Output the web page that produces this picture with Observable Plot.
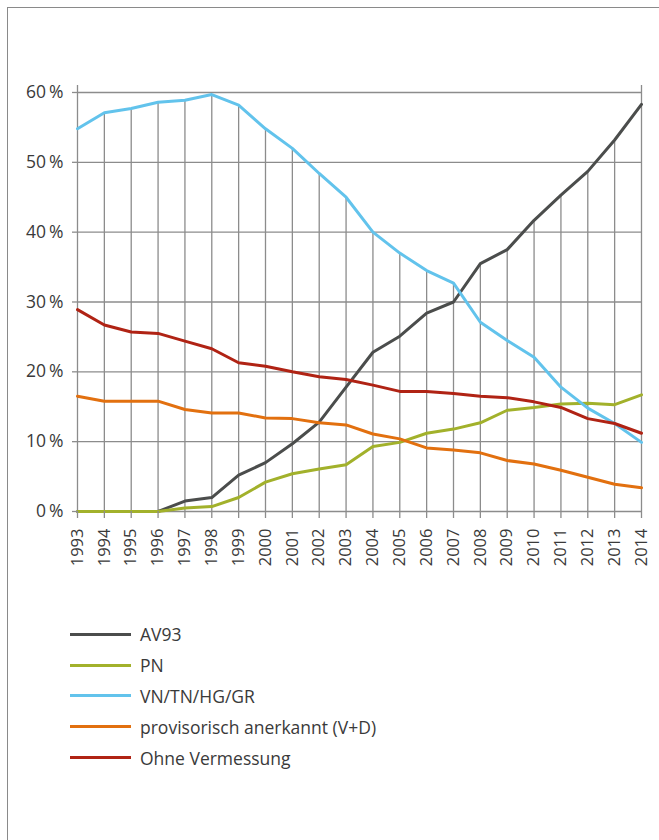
<!DOCTYPE html>
<html><head><meta charset="utf-8">
<script src="https://cdn.jsdelivr.net/npm/d3@7"></script>
<script src="https://cdn.jsdelivr.net/npm/@observablehq/plot@0.6"></script>
<style>
body{margin:0;background:#fff;}
#wrap{position:relative;width:659px;height:840px;overflow:hidden;font-family:"Open Sans",sans-serif;color:#3a3a3a;background:#fff;}
#frame{position:absolute;left:7px;top:7px;width:700px;height:900px;border-left:1.5px solid #8a8a8a;border-top:1.5px solid #8a8a8a;}
#chart{position:absolute;left:0;top:0;}
#legend{position:absolute;left:70px;top:619px;}
.item{display:flex;align-items:center;height:30.8px;}
.sw{width:61px;height:3px;margin-right:9px;}
.lbl{font-size:17.5px;color:#3a3a3a;}
</style></head><body>
<div id="wrap"><div id="frame"></div><div id="chart"></div><div id="legend"></div></div>
<script>
const years = [1993,1994,1995,1996,1997,1998,1999,2000,2001,2002,2003,2004,2005,2006,2007,2008,2009,2010,2011,2012,2013,2014];
const seriesNames = ["AV93","PN","VN/TN/HG/GR","provisorisch anerkannt (V+D)","Ohne Vermessung"];
const seriesColors = ["#4b4d4c","#a2b12b","#62c3ec","#e2700f","#b02314"];
const av93 = [0,0,0,0,1.5,2.0,5.2,7.0,9.7,12.8,17.8,22.8,25.1,28.4,30.0,35.5,37.5,41.7,45.3,48.7,53.2,58.3];
const pn = [0,0,0,0,0.5,0.7,2.0,4.2,5.4,6.1,6.7,9.3,9.9,11.2,11.8,12.7,14.5,14.9,15.4,15.5,15.3,16.7];
const vn = [54.8,57.1,57.7,58.6,58.9,59.7,58.2,54.8,52.0,48.4,45.0,40.0,37.0,34.5,32.7,27.1,24.5,22.1,17.8,14.8,12.6,9.9];
const prov = [16.5,15.8,15.8,15.8,14.6,14.1,14.1,13.4,13.3,12.7,12.4,11.1,10.4,9.1,8.8,8.4,7.3,6.8,5.9,4.9,3.9,3.4];
const ohne = [28.9,26.7,25.7,25.5,24.4,23.3,21.3,20.8,20.0,19.3,18.9,18.1,17.2,17.2,16.9,16.5,16.3,15.7,14.9,13.3,12.6,11.2];
const yTicks = [0,10,20,30,40,50,60];
const yTop = 61;

const allSeries = [av93, pn, vn, prov, ohne];
const long = [];
allSeries.forEach((arr, s) => arr.forEach((v, i) => long.push({series: seriesNames[s], year: years[i], value: v})));
const drops = years.map((yr, i) => ({
  year: yr,
  top: (i === 0 || i === years.length - 1) ? yTop : Math.max(...allSeries.map(a => a[i]))
}));

const grid = "#8c8c8c";
const txt = "#3a3a3a";
const chart = Plot.plot({
  width: 659, height: 581,
  marginLeft: 77, marginRight: 18, marginTop: 85, marginBottom: 70,
  style: {fontFamily: "'Open Sans', sans-serif", fontSize: "16px", background: "transparent", overflow: "visible"},
  x: {domain: [years[0], years[years.length - 1]], label: null},
  y: {domain: [0, yTop], label: null},
  color: {domain: seriesNames, range: seriesColors},
  marks: [
    Plot.ruleY(yTicks, {x1: years[0], x2: years[years.length - 1], stroke: grid, strokeWidth: 1.3}),
    Plot.ruleX(drops, {x: "year", y1: 0, y2: "top", stroke: grid, strokeWidth: 1.3}),
    Plot.line(long, {x: "year", y: "value", z: "series", stroke: "series", strokeWidth: 3, strokeLinejoin: "round"}),
    Plot.axisX({ticks: years, tickFormat: d => String(d), tickSize: 7, tickPadding: 10, tickRotate: -90, stroke: grid, strokeWidth: 1.3, fill: txt, label: null}),
    Plot.axisY({ticks: yTicks, tickFormat: d => d + "\u2009%", tickSize: 5, tickPadding: 9, stroke: grid, strokeWidth: 1.3, fill: txt, label: null})
  ]
});
d3.select(chart).selectAll('g[aria-label="x-axis tick label"] text, g[aria-label="x-axis tick label"]').style("font-size", "16.5px");
d3.select(chart).selectAll('g[aria-label="y-axis tick label"] text, g[aria-label="y-axis tick label"]').style("font-size", "17.5px");
document.getElementById("chart").appendChild(chart);

const legend = document.getElementById("legend");
seriesNames.forEach((name, i) => {
  const item = document.createElement("div");
  item.className = "item";
  const sw = document.createElement("div");
  sw.className = "sw";
  sw.style.background = seriesColors[i];
  const lbl = document.createElement("span");
  lbl.className = "lbl";
  lbl.textContent = name;
  item.appendChild(sw);
  item.appendChild(lbl);
  legend.appendChild(item);
});
</script>
</body></html>
